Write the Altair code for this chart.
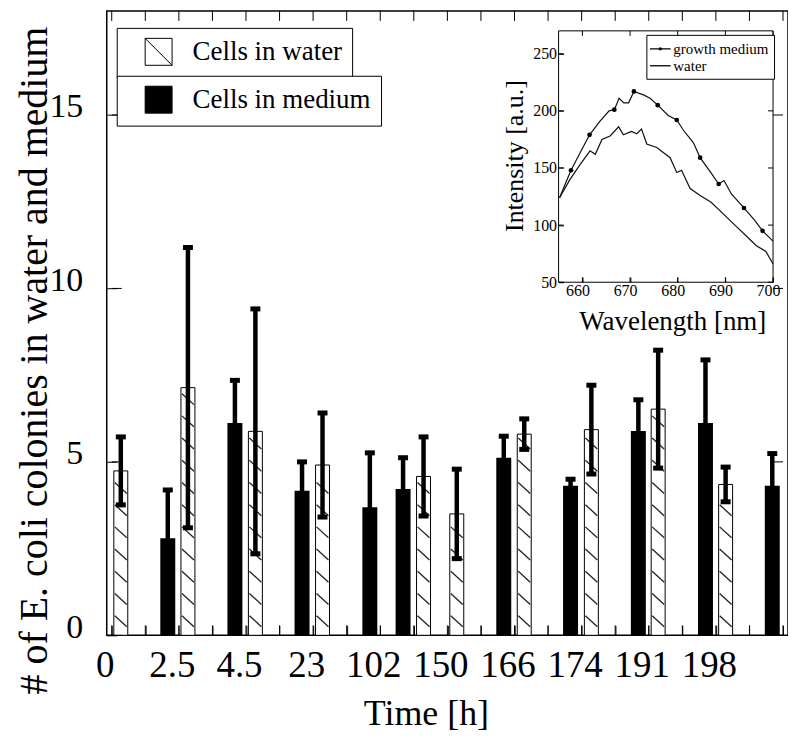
import json
import altair as alt
import pandas as pd

SERIF = "Liberation Serif"

# ---------------- main chart data ----------------
time_labels = ["0", "2.5", "4.5", "23", "102", "150", "166", "174", "191", "198"]

# position of each bar along the (slot) x axis
water_slot = [0.27, 2.27, 4.28, 6.28, 9.29, 10.28, 12.29, 14.29, 16.28, 18.29]
water_avg = [4.74, 7.14, 5.88, 4.91, 4.58, 3.50, 5.80, 5.93, 6.52, 4.35]
water_sd = [0.98, 4.04, 3.53, 1.50, 1.14, 1.29, 0.44, 1.28, 1.70, 0.50]

medium_slot = [1.67, 3.67, 5.67, 7.69, 8.68, 11.68, 13.67, 15.69, 17.69, 19.68]
medium_avg = [2.80, 6.12, 4.17, 3.69, 4.22, 5.12, 4.31, 5.89, 6.12, 4.31]
medium_sd = [1.39, 1.23, 0.83, 1.57, 0.90, 0.62, 0.19, 0.90, 1.82, 0.93]

x_tick_values = list(range(0, 21))
y_tick_values = [0, 5, 10, 15]

# ---------------- inset data ----------------
gm_wl = [655.2, 657.6, 661.5, 663.7, 665.6, 666.7, 667.7, 668.7, 669.7, 670.8, 672.8,
         674.2, 675.8, 678.0, 679.8, 681.2, 683.3, 684.7, 687.1, 688.6, 689.7, 691.3,
         693.9, 696.2, 697.8, 700.0]
gm_int = [124, 148, 179, 191, 200, 201, 211, 207, 207, 217, 214, 211, 205, 196, 192,
          183, 172, 159, 145, 136, 139, 127, 115, 104, 95, 86]
gm_marker = [0, 1, 1, 0, 0, 1, 0, 0, 0, 1, 0, 0, 1, 0, 1, 0, 0, 1, 0, 1, 0, 0, 1, 0, 1, 0]

wt_wl = [655.2, 657.4, 659.5, 661.6, 662.7, 664.1, 665.8, 667.6, 668.6, 670.3, 671.4,
         672.4, 673.5, 675.6, 678.4, 679.8, 680.8, 682.6, 684.7, 687.0, 689.5, 692.0,
         694.5, 696.5, 698.5, 700.0]
wt_int = [124, 140, 153, 165, 162, 175, 178, 186, 179, 182, 180, 184, 171, 168, 159,
          146, 148, 132, 126, 120, 110, 100, 90, 82, 77, 66]

in_x_tick_values = [660, 670, 680, 690, 700]
in_y_tick_values = [50, 100, 150, 200, 250]

# ---------------- layout ----------------
W, H = 683, 626
X_DOMAIN = [0, 20]
Y_DOMAIN = [0, 18]
IN_X_DOMAIN = [655, 700]
IN_Y_DOMAIN = [50, 270]
IN_X_RANGE = [453, 668]
IN_Y_RANGE = [272, 20]
TK = 10   # main tick length (drawn inward)
ITK = 5   # inset tick length (drawn inward)

water_df = pd.DataFrame({"slot": water_slot, "avg": water_avg, "sd": water_sd,
                         "series": "Cells in water"})
medium_df = pd.DataFrame({"slot": medium_slot, "avg": medium_avg, "sd": medium_sd,
                          "series": "Cells in medium"})
bars_all = pd.concat([water_df, medium_df], ignore_index=True)

gm_df = pd.DataFrame({"wl": gm_wl, "inten": gm_int, "marker": gm_marker,
                      "series": "growth medium"})
wt_df = pd.DataFrame({"wl": wt_wl, "inten": wt_int, "series": "water"})
inset_df = pd.concat([gm_df[["wl", "inten", "series"]], wt_df], ignore_index=True)

xs = alt.Scale(domain=X_DOMAIN, nice=False, zero=False)
ys = alt.Scale(domain=Y_DOMAIN, nice=False)
ixs = alt.Scale(domain=IN_X_DOMAIN, range=IN_X_RANGE, nice=False, zero=False)
iys = alt.Scale(domain=IN_Y_DOMAIN, range=IN_Y_RANGE, nice=False, zero=False)

label_expr = ("datum.value % 2 === 0 && datum.value < 20 ? "
              + json.dumps(time_labels) + "[datum.value / 2] : ''")

common = dict(grid=False, domain=False, ticks=True, tickOpacity=1, tickColor="black",
              tickWidth=1, labelColor="black", titleColor="black",
              labelFont=SERIF, titleFont=SERIF, titleFontWeight="normal")

ax_bottom = alt.Axis(orient="bottom", offset=-TK, tickSize=TK, values=x_tick_values,
                     labelExpr=label_expr, labelFontSize=37,
                     labelPadding=12, labelOffset=-7, labelFlush=False, labelOverlap=False,
                     title="Time [h]", titleFontSize=36, titleX=320, titleY=89 + TK,
                     titleBaseline="alphabetic", **common)
ax_left = alt.Axis(orient="left", offset=-TK, tickSize=TK, values=y_tick_values,
                   labelFontSize=34, labelPadding=24, labelOffset=-8,
                   labelBaseline="middle",
                   title="# of E. coli colonies in water and medium", titleFontSize=40,
                   titleAngle=270, titleX=-60 - TK, titleY=350, titleBaseline="alphabetic",
                   titleAlign="center", **common)

in_bottom = alt.Axis(orient="bottom", offset=-(H - IN_Y_RANGE[0]) - ITK, tickSize=ITK,
                     values=in_x_tick_values, labelFontSize=16, labelPadding=0,
                     labelOffset=-5, labelFlush=False, title="Wavelength [nm]",
                     titleFontSize=27, titleX=567, titleY=47 + ITK,
                     titleBaseline="alphabetic", **common)
in_left = alt.Axis(orient="left", offset=-IN_X_RANGE[0] - ITK, tickSize=ITK,
                   values=in_y_tick_values, labelFontSize=16, labelPadding=2,
                   labelBaseline="middle", labelFlush=False,
                   title="Intensity [a.u.]", titleFontSize=26, titleAngle=270,
                   titleX=-36 - ITK, titleY=145, titleBaseline="alphabetic",
                   titleAlign="center", **common)

HATCH_SYMBOL = "M-1,-1H1V1H-1ZM-1,-1L1,1"
leg_common = dict(title=None, orient="none", direction="vertical", symbolSize=729,
                  symbolStrokeColor="black", symbolStrokeWidth=1, symbolOffset=18,
                  labelOffset=20, labelFont=SERIF, labelFontSize=27, labelColor="black",
                  labelLimit=400, padding=10, strokeColor="black", fillColor="white")
leg_water = alt.Legend(legendX=10, legendY=17, symbolType=HATCH_SYMBOL, **leg_common)
leg_medium = alt.Legend(legendX=10, legendY=65, symbolType="square", **leg_common)

DOT_LINE = "M-1.3,0H1.3M0.13,0A0.13,0.13 0 1 1 -0.13,0A0.13,0.13 0 1 1 0.13,0"
PLAIN_LINE = "M-1.3,0H1.3"
leg_inset = alt.Legend(
    title=None, orient="none", legendX=541, legendY=24, direction="vertical",
    symbolSize=256, symbolStrokeWidth=1.3, symbolStrokeColor="black", symbolOpacity=1,
    labelFont=SERIF, labelFontSize=15, labelColor="black", labelOffset=4,
    padding=5, rowPadding=0, strokeColor="black", fillColor="white",
)

# every layer of a panel carries the same axis definitions so they merge into one
MX = dict(scale=xs, axis=ax_bottom)
MY = dict(scale=ys, axis=ax_left)
IX = dict(scale=ixs, axis=in_bottom)
IY = dict(scale=iys, axis=in_left)


def tick_rules(values, along, xkw, ykw, at, length):
    """Short inward tick marks at `values`, drawn from the frame edge `at`."""
    src = pd.DataFrame({"v": values})
    if along == "x":
        return alt.Chart(src).mark_rule(color="black", strokeWidth=1,
                                        y2Offset=length).encode(
            x=alt.X("v:Q", **xkw),
            y=alt.Y(datum=at, **ykw),
            y2=alt.Y2(datum=at),
        )
    return alt.Chart(src).mark_rule(color="black", strokeWidth=1,
                                    x2Offset=length).encode(
        y=alt.Y("v:Q", **ykw),
        x=alt.X(datum=at, **xkw),
        x2=alt.X2(datum=at),
    )


# ---------------- main layers ----------------
hatched = alt.Chart(water_df).mark_bar(
    size=14, stroke="black", strokeWidth=1, orient="vertical", opacity=1
).encode(
    x=alt.X("slot:Q", **MX),
    y=alt.Y("avg:Q", **MY),
    fill=alt.Fill("series:N", scale=alt.Scale(domain=["Cells in water"], range=["white"]),
                  legend=leg_water),
)

hatch = alt.Chart(water_df).transform_calculate(
    level="sequence(0.25, datum.avg - 0.3, 0.64)"
).transform_flatten(["level"]).mark_rule(
    stroke="#222222", strokeWidth=1.3, xOffset=-6, x2Offset=6, yOffset=-11
).encode(
    x=alt.X("slot:Q", **MX),
    x2=alt.X2("slot:Q"),
    y=alt.Y("level:Q", **MY),
    y2=alt.Y2("level:Q"),
)

black = alt.Chart(medium_df).mark_bar(size=15, orient="vertical", opacity=1).encode(
    x=alt.X("slot:Q", **MX),
    y=alt.Y("avg:Q", **MY),
    fill=alt.Fill("series:N", scale=alt.Scale(domain=["Cells in medium"], range=["black"]),
                  legend=leg_medium),
)

errs = alt.Chart(bars_all).transform_calculate(
    lo="datum.avg - datum.sd", hi="datum.avg + datum.sd"
).mark_rule(color="black", strokeWidth=4.5).encode(
    x=alt.X("slot:Q", **MX),
    y=alt.Y("lo:Q", **MY),
    y2=alt.Y2("hi:Q"),
)

caps = alt.Chart(bars_all).transform_calculate(
    lo="datum.avg - datum.sd", hi="datum.avg + datum.sd"
).transform_fold(["lo", "hi"], as_=["end", "val"]).mark_tick(
    color="black", orient="horizontal", thickness=5, size=10, opacity=1
).encode(
    x=alt.X("slot:Q", **MX),
    y=alt.Y("val:Q", **MY),
)

main_ticks = [
    tick_rules(x_tick_values, "x", MX, MY, Y_DOMAIN[0], -TK),
    tick_rules(x_tick_values, "x", MX, MY, Y_DOMAIN[1], TK),
    tick_rules(y_tick_values, "y", MX, MY, X_DOMAIN[0], TK),
    tick_rules(y_tick_values, "y", MX, MY, X_DOMAIN[1], -TK),
]

main = alt.layer(hatched, hatch, black, errs, caps, *main_ticks).resolve_scale(
    fill="independent"
)

# ---------------- inset layers ----------------
frame_src = pd.DataFrame({"k": [0]})
inset_frame = alt.Chart(frame_src).mark_rect(
    fillOpacity=0, stroke="black", strokeWidth=1
).encode(
    x=alt.X(datum=IN_X_DOMAIN[0], **IX),
    x2=alt.X2(datum=IN_X_DOMAIN[1]),
    y=alt.Y(datum=IN_Y_DOMAIN[0], **IY),
    y2=alt.Y2(datum=IN_Y_DOMAIN[1]),
)

lines = alt.Chart(inset_df).mark_line(strokeWidth=1.2, color="#111111").encode(
    x=alt.X("wl:Q", **IX),
    y=alt.Y("inten:Q", **IY),
    detail="series:N",
)

markers = alt.Chart(gm_df).transform_filter("datum.marker == 1").mark_point(
    filled=True, size=22, color="black", opacity=1
).encode(
    x=alt.X("wl:Q", **IX),
    y=alt.Y("inten:Q", **IY),
)

legend_src = alt.Chart(inset_df).mark_point(filled=False, color="black", opacity=0).encode(
    x=alt.X("wl:Q", **IX),
    y=alt.Y("inten:Q", **IY),
    shape=alt.Shape("series:N",
                    scale=alt.Scale(domain=["growth medium", "water"],
                                    range=[DOT_LINE, PLAIN_LINE]),
                    legend=leg_inset),
)

inset_ticks = [
    tick_rules(in_x_tick_values, "x", IX, IY, IN_Y_DOMAIN[0], -ITK),
    tick_rules(in_x_tick_values, "x", IX, IY, IN_Y_DOMAIN[1], ITK),
    tick_rules(in_y_tick_values, "y", IX, IY, IN_X_DOMAIN[0], ITK),
    tick_rules(in_y_tick_values, "y", IX, IY, IN_X_DOMAIN[1], -ITK),
]

inset = alt.layer(inset_frame, lines, markers, legend_src, *inset_ticks)

chart = alt.layer(main, inset).resolve_scale(
    x="independent", y="independent"
).properties(
    width=W, height=H,
    padding={"left": 99, "top": 2, "right": 0, "bottom": 100},
    autosize=alt.AutoSizeParams(type="none"),
    background="white",
).configure_view(stroke="black", strokeWidth=1.5)

chart.save("out.html", embed_options={"renderer": "svg", "actions": False})
